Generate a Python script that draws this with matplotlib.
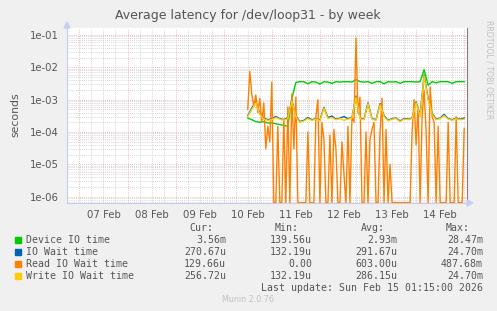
import numpy as np
import matplotlib
matplotlib.use('Agg')
import matplotlib.pyplot as plt
from matplotlib.patches import Rectangle

#%% Datos (horas desde 10 Feb 00:00)
t_start = 12          # primera muestra: 10 Feb 12:00

# Device IO time, cada 2 horas
device_io = [2.7e-4, 2.4e-4, 2.1e-4, 2.0e-4, 2.1e-4, 1.9e-4, 1.9e-4, 1.8e-4, 1.7e-4, 1.6e-4,
             1.5e-4, 1.1e-3, 3.4e-3, 3.6e-3, 3.6e-3, 3.1e-3, 3.6e-3, 3.5e-3, 3.0e-3, 3.6e-3,
             3.5e-3, 3.2e-3, 3.6e-3, 3.5e-3, 3.6e-3, 3.6e-3, 3.5e-3, 4.2e-3, 3.6e-3, 3.5e-3,
             3.6e-3, 3.2e-3, 3.6e-3, 3.6e-3, 3.1e-3, 3.6e-3, 3.5e-3, 3.6e-3, 3.2e-3, 3.6e-3,
             3.6e-3, 3.6e-3, 3.5e-3, 3.6e-3, 8.5e-3, 2.8e-3, 3.6e-3, 3.3e-3, 3.6e-3, 3.6e-3,
             3.6e-3, 3.2e-3, 3.6e-3, 3.6e-3, 3.6e-3]

# IO Wait time, cada 2 horas
io_wait = [3.2e-4, 5.5e-4, 8.5e-4, 3.8e-4, 2.7e-4, 2.4e-4, 2.6e-4, 3.0e-4, 2.6e-4, 2.4e-4,
           2.8e-4, 9.5e-4, 3.2e-4, 2.1e-4, 2.3e-4, 2.8e-4, 2.4e-4, 2.6e-4, 2.3e-4, 5.8e-4,
           2.8e-4, 3.1e-4, 2.5e-4, 2.7e-4, 3.0e-4, 2.6e-4, 2.8e-4, 1.3e-3, 2.7e-4, 2.5e-4,
           8.0e-4, 2.6e-4, 2.4e-4, 7.5e-4, 3.2e-4, 2.3e-4, 2.6e-4, 2.7e-4, 2.2e-4, 2.6e-4,
           2.5e-4, 2.7e-4, 8.5e-4, 3.3e-4, 5.8e-3, 1.1e-3, 3.8e-4, 2.5e-4, 2.7e-4, 3.5e-4,
           2.6e-4, 2.4e-4, 2.7e-4, 2.5e-4, 2.7e-4]

# Write IO Wait time, cada 2 horas
write_wait = [3.0e-4, 5.0e-4, 8.0e-4, 3.5e-4, 2.5e-4, 2.3e-4, 2.4e-4, 2.8e-4, 2.5e-4, 2.3e-4,
              2.6e-4, 9.0e-4, 3.0e-4, 2.0e-4, 2.2e-4, 2.6e-4, 2.3e-4, 2.5e-4, 2.2e-4, 5.5e-4,
              2.6e-4, 2.8e-4, 2.4e-4, 2.6e-4, 2.3e-4, 2.5e-4, 2.7e-4, 1.2e-3, 2.6e-4, 2.4e-4,
              7.5e-4, 2.5e-4, 2.3e-4, 7.0e-4, 3.0e-4, 2.2e-4, 2.5e-4, 2.6e-4, 2.1e-4, 2.5e-4,
              2.4e-4, 2.6e-4, 8.0e-4, 3.0e-4, 5.5e-3, 1.0e-3, 3.5e-4, 2.4e-4, 2.6e-4, 3.2e-4,
              2.5e-4, 2.3e-4, 2.6e-4, 2.4e-4, 2.5e-4]

# Read IO Wait time, cada hora (0 = sin lecturas)
read_wait = [5e-4, 7.5e-3, 1.5e-3, 6e-4, 1.4e-3, 4e-4, 1.1e-3, 2e-4, 8e-4, 3e-5,
             1.5e-4, 5e-5, 3.5e-3, 0, 0, 1.5e-4, 0, 0, 2.5e-4, 0,
             6e-4, 0, 1.5e-3, 3e-5, 1.2e-3, 0, 0, 0, 0, 0,
             1e-4, 0, 0, 0, 3e-4, 1e-3, 0, 2e-4, 6e-5, 0,
             0, 8e-5, 0, 1.2e-4, 3e-5, 0, 0, 5e-5, 5e-6, 0,
             1.5e-4, 0, 3e-4, 2e-4, 8e-2, 4e-4, 1.2e-3, 0, 0, 1e-4,
             0, 6e-5, 1.2e-4, 2e-4, 0, 0, 1e-4, 1.1e-3, 0, 1.2e-4,
             0, 1e-5, 0, 0, 0, 0, 0, 0, 0, 0,
             0, 0, 1e-4, 1e-3, 4e-5, 6e-4, 0, 3e-4, 2e-3, 1e-4,
             0, 2.5e-3, 3e-4, 2e-4, 0, 1.5e-4, 0, 0, 0, 0,
             2e-4, 0, 0, 0, 3e-4, 0, 0, 0, 1.3e-4]

nombres = ['Device IO time', 'IO Wait time', 'Read IO Wait time', 'Write IO Wait time']
colores = ['#00cc00', '#0066b3', '#ff8000', '#ffcc00']
cur = ['3.56m', '270.67u', '129.66u', '256.72u']
mins = ['139.56u', '132.19u', '0.00', '132.19u']
avgs = ['2.93m', '291.67u', '603.00u', '286.15u']
maxs = ['28.47m', '24.70m', '487.68m', '24.70m']

dias = ['07 Feb', '08 Feb', '09 Feb', '10 Feb', '11 Feb', '12 Feb', '13 Feb', '14 Feb']
dias_pos = [-60, -36, -12, 12, 36, 60, 84, 108]   # mediodia de cada dia
ytick_lab = ['1e-06', '1e-05', '1e-04', '1e-03', '1e-02', '1e-01']

#%% Ejes de tiempo
t2 = t_start + 2 * np.arange(len(device_io))
t1 = t_start + np.arange(len(read_wait))

ymin, ymax = 10**-6.195, 10**-0.784
xmin, xmax = -78.2, 121.4

W, H = 497, 311
fig = plt.figure(figsize=(W/100, H/100), dpi=100, facecolor='#f0f0f0')
ax = fig.add_axes([67/W, 1 - 203/H, 400/W, 175/H], facecolor='white')

def px(x, y):
    return x / W, 1 - y / H

# Grilla
for d in range(-72, 121, 6):
    if d % 24 == 0:
        ax.axvline(d, color='#e8a8a8', lw=0.6, ls=(0, (1, 1.5)), zorder=1)
    else:
        ax.axvline(d, color='#c8c8c8', lw=0.6, ls=(0, (1, 1.5)), zorder=0.5)
for e in range(-7, 0):
    for k in range(1, 10):
        v = k * 10.0**e
        if ymin < v < ymax:
            if k == 1:
                ax.axhline(v, color='#e8a8a8', lw=0.6, ls=(0, (1, 1.5)), zorder=1)
            else:
                ax.axhline(v, color='#c8c8c8', lw=0.6, ls=(0, (1, 1.5)), zorder=0.5)

# Series
ax.plot(t2, device_io, color=colores[0], lw=1.0, zorder=3)
ax.plot(t2, io_wait, color=colores[1], lw=1.0, zorder=3)
ax.plot(t1, np.maximum(read_wait, ymin * 1.03), color=colores[2], lw=1.0, zorder=3)
ax.plot(t2, write_wait, color=colores[3], lw=1.0, zorder=3)

ax.set_yscale('log')
ax.set_ylim(ymin, ymax)
ax.set_xlim(xmin, xmax)
ax.set_yticks([10.0**e for e in range(-6, 0)])
ax.set_yticklabels(ytick_lab)
ax.minorticks_off()
ax.set_xticks(dias_pos)
ax.set_xticklabels(dias)
ax.tick_params(axis='both', length=0, labelsize=7.3, colors='#555555')
ax.tick_params(axis='y', pad=6)
ax.tick_params(axis='x', pad=5)

for s in ['top']:
    ax.spines[s].set_visible(False)
ax.spines['left'].set_color('#c8ccf0')
ax.spines['bottom'].set_color('#c8ccf0')
ax.spines['right'].set_color('#808080')
for s in ax.spines.values():
    s.set_linewidth(0.8)

# Flechas de los ejes
fig.patches.append(plt.Polygon([px(64, 28), px(70, 28), px(67, 22)], closed=True,
                               transform=fig.transFigure, color='#c8ccf0'))
fig.patches.append(plt.Polygon([px(467, 200), px(467, 206), px(473, 203)], closed=True,
                               transform=fig.transFigure, color='#c8ccf0'))

fig.text(*px(15, 115), 'seconds', rotation=90, ha='center', va='center',
         fontsize=7.8, color='#555555')
fig.text(*px(248, 16), 'Average latency for /dev/loop31 - by week', ha='center', va='center',
         fontsize=9, color='#555555')
fig.text(*px(489, 20), 'RRDTOOL / TOBI OETIKER', rotation=270, ha='center', va='top',
         fontsize=5.6, color='#c0c0c0')

# Leyenda
mono = dict(family='DejaVu Sans Mono', fontsize=7.1, color='#555555', va='center')
fig.text(*px(213, 228), 'Cur:', ha='right', **mono)
fig.text(*px(299, 228), 'Min:', ha='right', **mono)
fig.text(*px(385, 228), 'Avg:', ha='right', **mono)
fig.text(*px(470, 228), 'Max:', ha='right', **mono)
for i in range(4):
    y = 240 + 12 * i
    x0, y0 = px(15, y + 3)
    fig.patches.append(Rectangle((x0, y0), 6/W, 6/H, transform=fig.transFigure,
                                 color=colores[i]))
    fig.text(*px(26, y), nombres[i], ha='left', **mono)
    fig.text(*px(226, y), cur[i], ha='right', **mono)
    fig.text(*px(312, y), mins[i], ha='right', **mono)
    fig.text(*px(397, y), avgs[i], ha='right', **mono)
    fig.text(*px(483, y), maxs[i], ha='right', **mono)
fig.text(*px(483, 288), 'Last update: Sun Feb 15 01:15:00 2026', ha='right', **mono)
fig.text(*px(248, 300), 'Munin 2.0.76', ha='center', va='center', fontsize=5.8, color='#c0c0c0')

fig.savefig('out.png', dpi=100, facecolor=fig.get_facecolor())
